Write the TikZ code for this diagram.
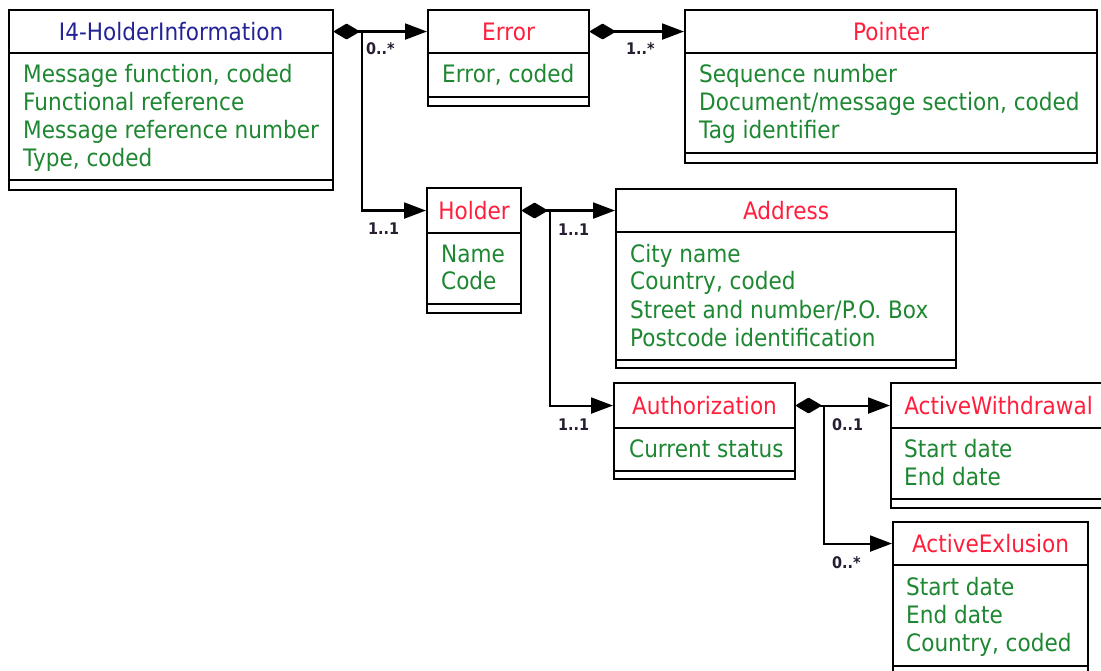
\documentclass[tikz,border=0pt]{standalone}
\usepackage{fontspec}
\setmainfont{DejaVu Sans}[FakeStretch=0.9]
\usetikzlibrary{arrows.meta,calc}
\definecolor{ttlred}{RGB}{255,30,60}
\definecolor{ttlblue}{RGB}{35,35,150}
\definecolor{attrgreen}{RGB}{30,135,50}
\definecolor{multc}{RGB}{40,30,50}
\tikzset{
  ln/.style={line width=2.1pt, draw=black},
  ttl/.style={ln, anchor=north west, inner sep=0pt, text height=18pt, text depth=0pt,
    font=\fontsize{24}{28}\selectfont, text=ttlred},
  cmp/.style={ln, anchor=north west, inner sep=0pt},
  attr/.style={anchor=base west, inner sep=0pt, text=attrgreen, font=\fontsize{24}{28}\selectfont},
  mult/.style={anchor=west, inner sep=0pt, font=\bfseries\fontsize{16}{18}\selectfont, text=multc},
  link/.style={line width=2.1pt, -{Triangle[length=22pt,width=16pt]}},
  aggr/.style={line width=2.1pt, {Diamond[length=27pt,width=16pt,round]}-{Triangle[length=22pt,width=16pt]}},
}
\begin{document}
\begin{tikzpicture}[x=1pt,y=-1pt]
\clip (0,0) rectangle (1101,671);
\fill[white] (0,0) rectangle (1101,671);

% I4-HolderInformation
\node[ttl, text=ttlblue, minimum width=324, minimum height=43] (i4) at (8,9) {I4-HolderInformation};
\node[cmp, minimum width=324, minimum height=127] (i4b) at (8,52) {};
\node[cmp, minimum width=324, minimum height=10] (i4c) at (8,179) {};
\node[attr] (i4a1) at (23,83) {Message function, coded};
\node[attr] (i4a2) at (23,111) {Functional reference};
\node[attr] (i4a3) at (23,139) {Message reference number};
\node[attr] (i4a4) at (23,167) {Type, coded};

% Error
\node[ttl, minimum width=161, minimum height=43] (err) at (427,9) {Error};
\node[cmp, minimum width=161, minimum height=44] (errb) at (427,52) {};
\node[cmp, minimum width=161, minimum height=9] (errc) at (427,96) {};
\node[attr] (erra1) at (442,83) {Error, coded};

% Pointer
\node[ttl, minimum width=412, minimum height=43] (ptr) at (684,9) {Pointer};
\node[cmp, minimum width=412, minimum height=100] (ptrb) at (684,52) {};
\node[cmp, minimum width=412, minimum height=10] (ptrc) at (684,152) {};
\node[attr] (ptra1) at (699,83) {Sequence number};
\node[attr] (ptra2) at (699,111) {Document/message section, coded};
\node[attr] (ptra3) at (699,139) {Tag identifier};

% Holder
\node[ttl, minimum width=94, minimum height=45] (holder) at (426,187) {Holder};
\node[cmp, minimum width=94, minimum height=71] (holderb) at (426,232) {};
\node[cmp, minimum width=94, minimum height=9] (holderc) at (426,303) {};
\node[attr] (holdera1) at (441,262) {Name};
\node[attr] (holdera2) at (441,290) {Code};

% Address
\node[ttl, minimum width=340, minimum height=43] (addr) at (615,188) {Address};
\node[cmp, minimum width=340, minimum height=128] (addrb) at (615,231) {};
\node[cmp, minimum width=340, minimum height=8] (addrc) at (615,359) {};
\node[attr] (addra1) at (630,262) {City name};
\node[attr] (addra2) at (630,290) {Country, coded};
\node[attr] (addra3) at (630,318) {Street and number/P.O. Box};
\node[attr] (addra4) at (630,346) {Postcode identification};

% Authorization
\node[ttl, minimum width=181, minimum height=45] (auth) at (613,382) {Authorization};
\node[cmp, minimum width=181, minimum height=43] (authb) at (613,427) {};
\node[cmp, minimum width=181, minimum height=8] (authc) at (613,470) {};
\node[attr] (autha1) at (629,457) {Current status};

% ActiveWithdrawal
\node[ttl, minimum width=215, minimum height=45] (aw) at (890,382) {ActiveWithdrawal};
\node[cmp, minimum width=215, minimum height=71] (awb) at (890,427) {};
\node[cmp, minimum width=215, minimum height=9] (awc) at (890,498) {};
\node[attr] (awa1) at (904,457) {Start date};
\node[attr] (awa2) at (904,485) {End date};

% ActiveExlusion
\node[ttl, minimum width=195, minimum height=43] (ae) at (892,521) {ActiveExlusion};
\node[cmp, minimum width=195, minimum height=101] (aeb) at (892,564) {};
\node[cmp, minimum width=195, minimum height=12] (aec) at (892,665) {};
\node[attr] (aea1) at (906,595) {Start date};
\node[attr] (aea2) at (906,623) {End date};
\node[attr] (aea3) at (906,651) {Country, coded};

% connectors
\draw[aggr] (i4.east) -- (err.west);
\coordinate (j1) at ([xshift=28pt]i4.east);
\draw[link] (j1) |- (holder.west);
\draw[aggr] (err.east) -- (ptr.west);
\draw[aggr] (holder.east) -- (holder.east -| addr.west);
\coordinate (j2) at ([xshift=28pt]holder.east);
\draw[link] (j2) |- (auth.west);
\draw[aggr] (auth.east) -- (auth.east -| aw.west);
\coordinate (j3) at ([xshift=28pt]auth.east);
\draw[link] (j3) |- (ae.west);

% multiplicities
\node[mult] (m1) at ($(err.west)+(-61,17)$) {0..*};
\node[mult] (m2) at ($(holder.west)+(-58,18)$) {1..1};
\node[mult] (m3) at ($(ptr.west)+(-58,17)$) {1..*};
\node[mult] (m4) at ($(addr.west)+(-57,19)$) {1..1};
\node[mult] (m5) at ($(auth.west)+(-55,19)$) {1..1};
\node[mult] (m6) at ($(aw.west)+(-58,19)$) {0..1};
\node[mult] (m7) at ($(ae.west)+(-60,19)$) {0..*};
\end{tikzpicture}
\end{document}
